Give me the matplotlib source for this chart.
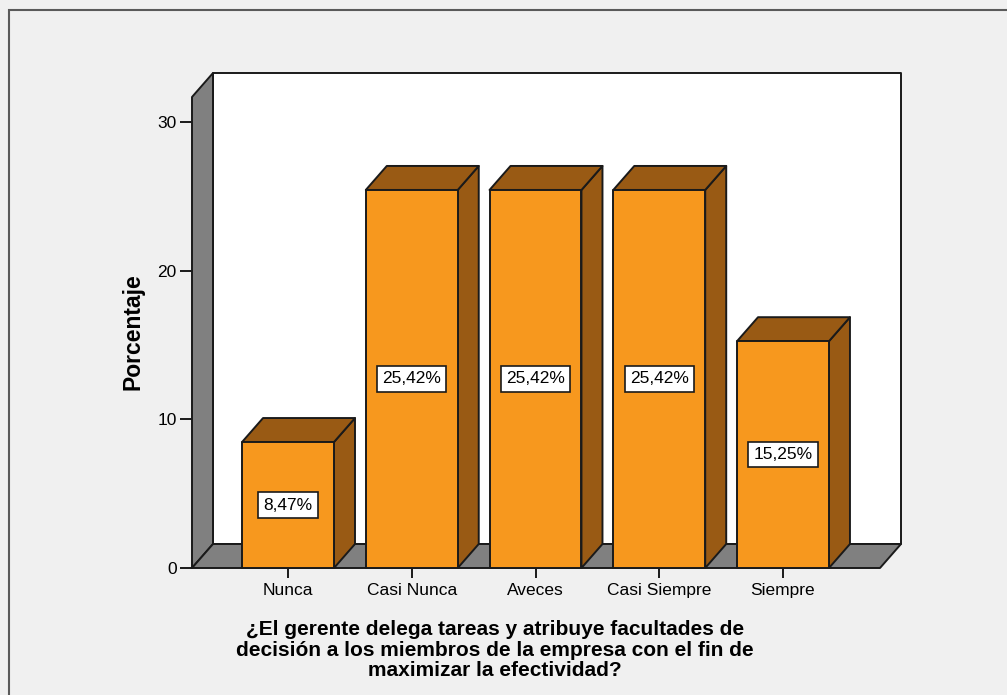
import matplotlib
matplotlib.use('Agg')
import matplotlib.pyplot as plt
from matplotlib.patches import Polygon, Rectangle

plt.rcParams['font.family'] = ['Liberation Sans', 'DejaVu Sans']

categories = ['Nunca', 'Casi Nunca', 'Aveces', 'Casi Siempre', 'Siempre']
porcentajes = [8.47, 25.42, 25.42, 25.42, 15.25]
etiquetas = ['8,47%', '25,42%', '25,42%', '25,42%', '15,25%']
y_ticks = [0, 10, 20, 30]

FRONT = '#F7981E'
DARK = '#995A14'
WALL = '#808080'
EDGE = '#1a1a1a'
BG = '#F0F0F0'

W, H = 1007, 695
XLIM = (-0.776, 4.784)
YMAX = 31.67
BAR_W = 0.743
DEPTH_PX = (21, 24)

fig = plt.figure(figsize=(W / 100, H / 100), dpi=100, facecolor=BG)
# frame around the whole chart (cut at right/bottom like the export)
fig.patches.append(Rectangle((9 / W, -0.1), 1.2, 1 - 10 / H + 0.1, transform=fig.transFigure,
                             fill=False, edgecolor='#5a5a5a', linewidth=1.5))

ax = fig.add_axes([192 / W, (H - 568) / H, (880 - 192) / W, (568 - 97) / H])
ax.set_facecolor('none')
ax.set_xlim(*XLIM)
ax.set_ylim(0, YMAX)
for s in ax.spines.values():
    s.set_visible(False)

# depth offset in data units
ax_w_px = 880 - 192
ax_h_px = 568 - 97
ddx = DEPTH_PX[0] * (XLIM[1] - XLIM[0]) / ax_w_px
ddy = DEPTH_PX[1] * YMAX / ax_h_px

x0, x1 = XLIM
kw = dict(edgecolor=EDGE, linewidth=1.4, joinstyle='round', clip_on=False)

# back wall
ax.add_patch(Polygon([(x0 + ddx, ddy), (x1 + ddx, ddy), (x1 + ddx, YMAX + ddy), (x0 + ddx, YMAX + ddy)],
                     facecolor='white', zorder=1, **kw))
# left wall
ax.add_patch(Polygon([(x0, 0), (x0, YMAX), (x0 + ddx, YMAX + ddy), (x0 + ddx, ddy)],
                     facecolor=WALL, zorder=2, **kw))
# floor
ax.add_patch(Polygon([(x0, 0), (x1, 0), (x1 + ddx, ddy), (x0 + ddx, ddy)],
                     facecolor=WALL, zorder=2, **kw))

for i, v in enumerate(porcentajes):
    l, r = i - BAR_W / 2, i + BAR_W / 2
    ax.add_patch(Polygon([(r, 0), (r + ddx, ddy), (r + ddx, v + ddy), (r, v)],
                         facecolor=DARK, zorder=3, **kw))
    ax.add_patch(Polygon([(l, v), (r, v), (r + ddx, v + ddy), (l + ddx, v + ddy)],
                         facecolor=DARK, zorder=3, **kw))
    ax.add_patch(Polygon([(l, 0), (r, 0), (r, v), (l, v)],
                         facecolor=FRONT, zorder=4, **kw))
    ax.text(i, v / 2, etiquetas[i], ha='center', va='center', fontsize=12.5, zorder=6,
            bbox=dict(boxstyle='square,pad=0.3', facecolor='white', edgecolor=EDGE, linewidth=1.2))

ax.set_yticks(y_ticks)
ax.set_yticklabels([str(t) for t in y_ticks])
ax.set_xticks(range(len(categories)))
ax.set_xticklabels(categories)
ax.tick_params(axis='y', direction='out', length=9, width=1.4, color=EDGE, labelsize=12.5, pad=2)
ax.tick_params(axis='x', direction='out', length=7, width=1.4, color=EDGE, labelsize=12.5, pad=4)

fig.text(133 / W, 1 - 332 / H, 'Porcentaje', rotation=90, ha='center', va='center',
         fontsize=16.5, fontweight='bold')
fig.text(495 / W, 1 - 650 / H,
         '¿El gerente delega tareas y atribuye facultades de\n'
         'decisión a los miembros de la empresa con el fin de\n'
         'maximizar la efectividad?',
         ha='center', va='center', multialignment='center', fontsize=15,
         fontweight='bold', linespacing=1.12)

fig.savefig('out.png', dpi=100, facecolor=BG)
